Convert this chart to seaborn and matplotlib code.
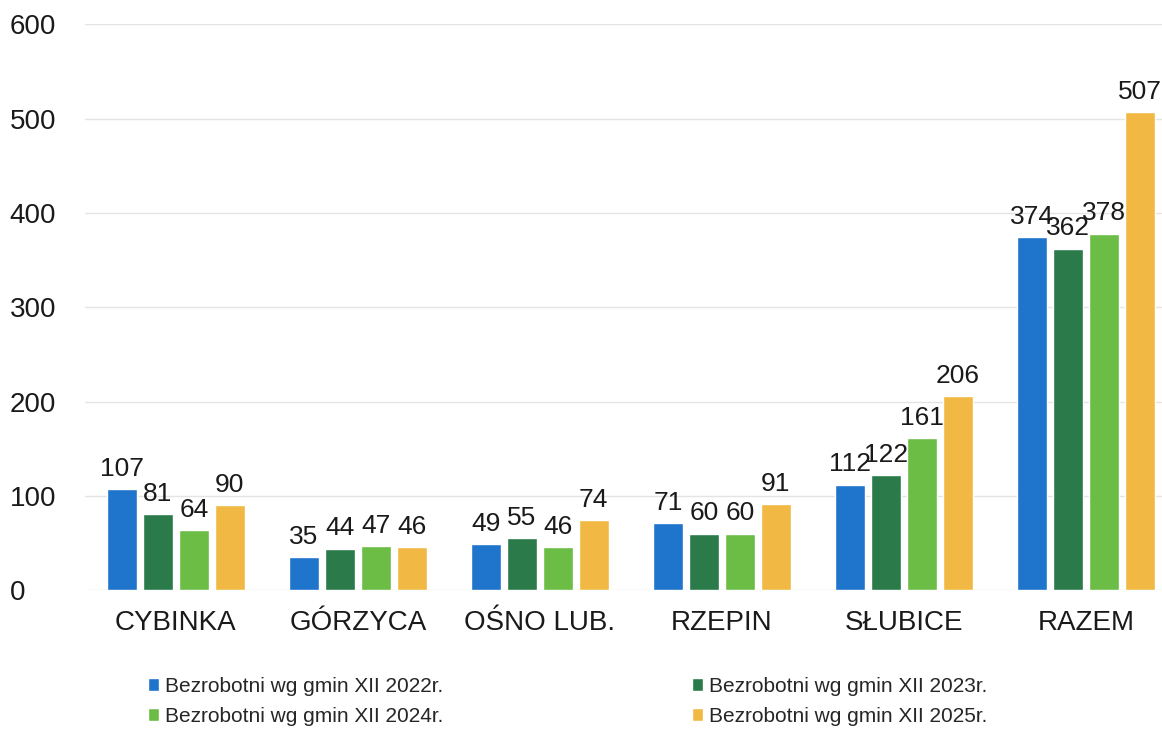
import pandas as pd
import numpy as np
import seaborn as sns
import matplotlib.pyplot as plt
from matplotlib.patches import Patch

sns.set_theme(style="white")
plt.rcParams['font.family'] = ['Liberation Sans', 'DejaVu Sans']

#--> data
gminy = ['CYBINKA', 'GÓRZYCA', 'OŚNO LUB.', 'RZEPIN', 'SŁUBICE', 'RAZEM']
lata = ['Bezrobotni wg gmin XII 2022r.', 'Bezrobotni wg gmin XII 2023r.',
        'Bezrobotni wg gmin XII 2024r.', 'Bezrobotni wg gmin XII 2025r.']
v2022 = [107, 35, 49, 71, 112, 374]
v2023 = [81, 44, 55, 60, 122, 362]
v2024 = [64, 47, 46, 60, 161, 378]
v2025 = [90, 46, 74, 91, 206, 507]
kolory = ['#1f74cc', '#2b7a49', '#6cbd45', '#f1b944']

df = pd.DataFrame({'gmina': gminy * 4,
                   'rok': np.repeat(lata, len(gminy)),
                   'wartosc': v2022 + v2023 + v2024 + v2025})

fig = plt.figure(figsize=(11.62, 7.36), dpi=100)
ax = fig.add_axes([0.073, 0.198, 0.927, 0.769])

sns.barplot(data=df, x='gmina', y='wartosc', hue='rok', palette=kolory,
            width=0.79, gap=0.17, saturation=1, legend=False, ax=ax)

for cont in ax.containers:
    ax.bar_label(cont, fontsize=19, padding=6, color='#1a1a1a')

ax.set_xlim(-0.5, 5.418)
ax.set_ylim(0, 600)
ax.set_yticks(range(0, 601, 100))
ax.yaxis.grid(True, color='#e4e4e4', linewidth=1)
ax.set_axisbelow(True)
for s in ax.spines.values():
    s.set_visible(False)
ax.set_xlabel('')
ax.set_ylabel('')
ax.tick_params(axis='x', labelsize=20, pad=14, length=0, labelcolor='#1a1a1a')
ax.tick_params(axis='y', labelsize=20, pad=54, length=0, labelcolor='#1a1a1a')
for lab in ax.get_yticklabels():
    lab.set_horizontalalignment('left')

# kolejnosc wierszami: 2022, 2023 / 2024, 2025
kolejnosc = [0, 2, 1, 3]
uchwyty = [Patch(facecolor=kolory[i], label=lata[i]) for i in kolejnosc]
fig.legend(handles=uchwyty, loc='lower left', bbox_to_anchor=(0.111, -0.012),
           ncol=2, frameon=False, fontsize=15, handlelength=0.55,
           handleheight=0.55, handletextpad=0.3, columnspacing=11.9,
           labelspacing=0.55)

fig.savefig('out.png', dpi=100)
